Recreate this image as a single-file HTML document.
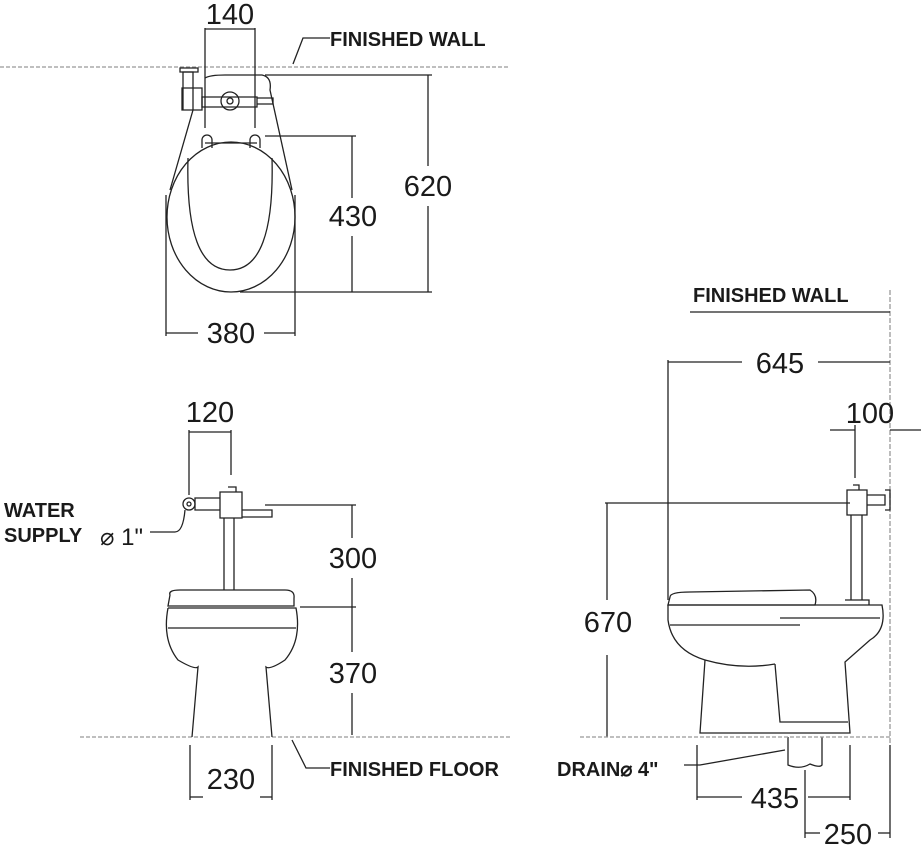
<!DOCTYPE html>
<html><head><style>
html,body{margin:0;padding:0;background:#fff;}
svg{display:block;}
text{font-family:"Liberation Sans",Arial,sans-serif;fill:#1a1a1a;}
.n{font-size:29px;}
.l{font-size:20px;font-weight:bold;}
</style></head><body>
<svg width="921" height="863" viewBox="0 0 921 863" xmlns="http://www.w3.org/2000/svg">
<g fill="none" stroke="#222" stroke-width="1.3">
<!-- TOP VIEW -->
<line x1="0" y1="67" x2="510" y2="67" stroke-dasharray="4,2" stroke="#999"/>
<path d="M330 38 H303 L293 64"/>
<line x1="205" y1="28" x2="205" y2="128"/><line x1="255" y1="28" x2="255" y2="128"/>
<line x1="205" y1="29" x2="255" y2="29"/>
<path d="M180 68 h18 v4 h-18 z"/>
<path d="M183 72 h10 v38 h-10 z M182 88 h20 v22 h-20z"/>
<path d="M202 97 h55 v10 h-55z"/><circle cx="230" cy="101" r="9"/><circle cx="230" cy="101" r="3"/>
<path d="M257 98 h16 v6 h-16"/>
<path d="M205 78 Q210 75 225 75 L262 75 Q272 77 270 90 L292 190"/>
<path d="M193 110 L170 190"/>
<path d="M202 148 v-8 a5 5 0 0 1 10 0 v8 M250 148 v-8 a5 5 0 0 1 10 0 v8 M205 143 h52"/>
<ellipse cx="231" cy="217" rx="64" ry="75"/>
<path d="M188 158 Q185 270 230 270 Q275 270 272 158"/>
<line x1="265" y1="136" x2="356" y2="136"/><line x1="240" y1="292" x2="432" y2="292"/>
<line x1="265" y1="75" x2="432" y2="75"/>
<line x1="352" y1="136" x2="352" y2="198"/><line x1="352" y1="236" x2="352" y2="292"/>
<line x1="428" y1="75" x2="428" y2="166"/><line x1="428" y1="206" x2="428" y2="292"/>
<line x1="166" y1="195" x2="166" y2="336"/><line x1="295" y1="195" x2="295" y2="336"/>
<line x1="166" y1="333" x2="198" y2="333"/><line x1="264" y1="333" x2="295" y2="333"/>
<!-- FRONT VIEW -->
<line x1="80" y1="737" x2="510" y2="737" stroke-dasharray="4,2" stroke="#999"/>
<path d="M330 768 H306 L292 740"/>
<line x1="189" y1="430" x2="189" y2="495"/><line x1="231" y1="430" x2="231" y2="475"/>
<line x1="189" y1="432" x2="231" y2="432"/>
<circle cx="189" cy="504" r="6"/><circle cx="189" cy="504" r="2"/>
<path d="M195 498 h25 v12 h-25z M220 492 h22 v26 h-22z M228 487 h8 v5 M242 510 h30 v7 h-30"/>
<path d="M185 510 Q183 532 175 532 H150"/>
<path d="M224 518 v72 M234 518 v72"/>
<line x1="265" y1="505" x2="356" y2="505"/><line x1="300" y1="607" x2="356" y2="607"/>
<line x1="352" y1="505" x2="352" y2="538"/><line x1="352" y1="578" x2="352" y2="652"/><line x1="352" y1="693" x2="352" y2="735"/>
<path d="M170 595 Q168 590 180 590 H285 Q295 590 294 598 L294 606 H168 Z"/>
<path d="M168 608 H296 Q302 640 285 660 Q270 670 266 667 L272 737 M168 608 Q162 640 178 660 Q195 670 198 667 L192 737"/>
<line x1="168" y1="628" x2="296" y2="628"/>
<line x1="190" y1="745" x2="190" y2="800"/><line x1="272" y1="745" x2="272" y2="800"/>
<line x1="190" y1="797" x2="203" y2="797"/><line x1="260" y1="797" x2="272" y2="797"/>
<!-- SIDE VIEW -->
<line x1="890" y1="290" x2="890" y2="745" stroke-dasharray="5,2" stroke="#999"/>
<line x1="690" y1="312" x2="890" y2="312"/>
<line x1="668" y1="360" x2="668" y2="600"/>
<line x1="668" y1="362" x2="742" y2="362"/><line x1="818" y1="362" x2="890" y2="362"/>
<line x1="855" y1="425" x2="855" y2="478"/>
<line x1="830" y1="430" x2="855" y2="430"/><line x1="890" y1="430" x2="921" y2="430"/>
<line x1="605" y1="503" x2="850" y2="503"/>
<line x1="607" y1="503" x2="607" y2="600"/><line x1="607" y1="655" x2="607" y2="737"/>
<path d="M847 490 h20 v25 h-20z M853 485 h6 v5 M867 495 h18 v10 h-18 M885 490 h5 v20 h-5"/>
<path d="M851 515 v85 M862 515 v85 M845 600 h24 v5"/>
<path d="M670 597 Q670 592 690 592 L810 590 Q818 595 815 605 H668 Z"/>
<path d="M668 605 H882 Q887 630 870 640 L845 662 L850 733 H700 L705 660 Q672 650 668 620 Z"/>
<line x1="670" y1="625" x2="800" y2="625"/><line x1="780" y1="618" x2="880" y2="618"/>
<path d="M775 664 Q740 670 705 660"/>
<path d="M775 664 L780 722 H848"/>
<path d="M788 737 v28 Q800 770 810 764 Q820 768 822 765 V737"/>
<line x1="580" y1="737" x2="890" y2="737" stroke-dasharray="4,2" stroke="#999"/>
<path d="M684 765 H700 L785 750"/>
<line x1="697" y1="745" x2="697" y2="800"/><line x1="850" y1="745" x2="850" y2="800"/><line x1="805" y1="770" x2="805" y2="838"/>
<line x1="697" y1="797" x2="742" y2="797"/><line x1="808" y1="797" x2="850" y2="797"/>
<line x1="805" y1="833" x2="820" y2="833"/><line x1="878" y1="833" x2="890" y2="833"/>
<line x1="890" y1="745" x2="890" y2="838"/>
</g>
<text class="n" x="230" y="24" text-anchor="middle">140</text>
<text class="l" x="330" y="46">FINISHED WALL</text>
<text class="n" x="353" y="226" text-anchor="middle">430</text>
<text class="n" x="428" y="196" text-anchor="middle">620</text>
<text class="n" x="231" y="343" text-anchor="middle">380</text>
<text class="n" x="210" y="422" text-anchor="middle">120</text>
<text class="l" x="4" y="517">WATER</text>
<text class="l" x="4" y="542">SUPPLY</text>
<text class="n" x="100" y="545" style="font-size:24px">⌀ 1"</text>
<text class="n" x="353" y="568" text-anchor="middle">300</text>
<text class="n" x="353" y="683" text-anchor="middle">370</text>
<text class="n" x="231" y="789" text-anchor="middle">230</text>
<text class="l" x="330" y="776">FINISHED FLOOR</text>
<text class="l" x="693" y="302">FINISHED WALL</text>
<text class="n" x="780" y="373" text-anchor="middle">645</text>
<text class="n" x="870" y="423" text-anchor="middle">100</text>
<text class="n" x="608" y="632" text-anchor="middle">670</text>
<text class="l" x="557" y="776">DRAIN⌀ 4"</text>
<text class="n" x="775" y="808" text-anchor="middle">435</text>
<text class="n" x="848" y="844" text-anchor="middle">250</text>
</svg>
</body></html>
